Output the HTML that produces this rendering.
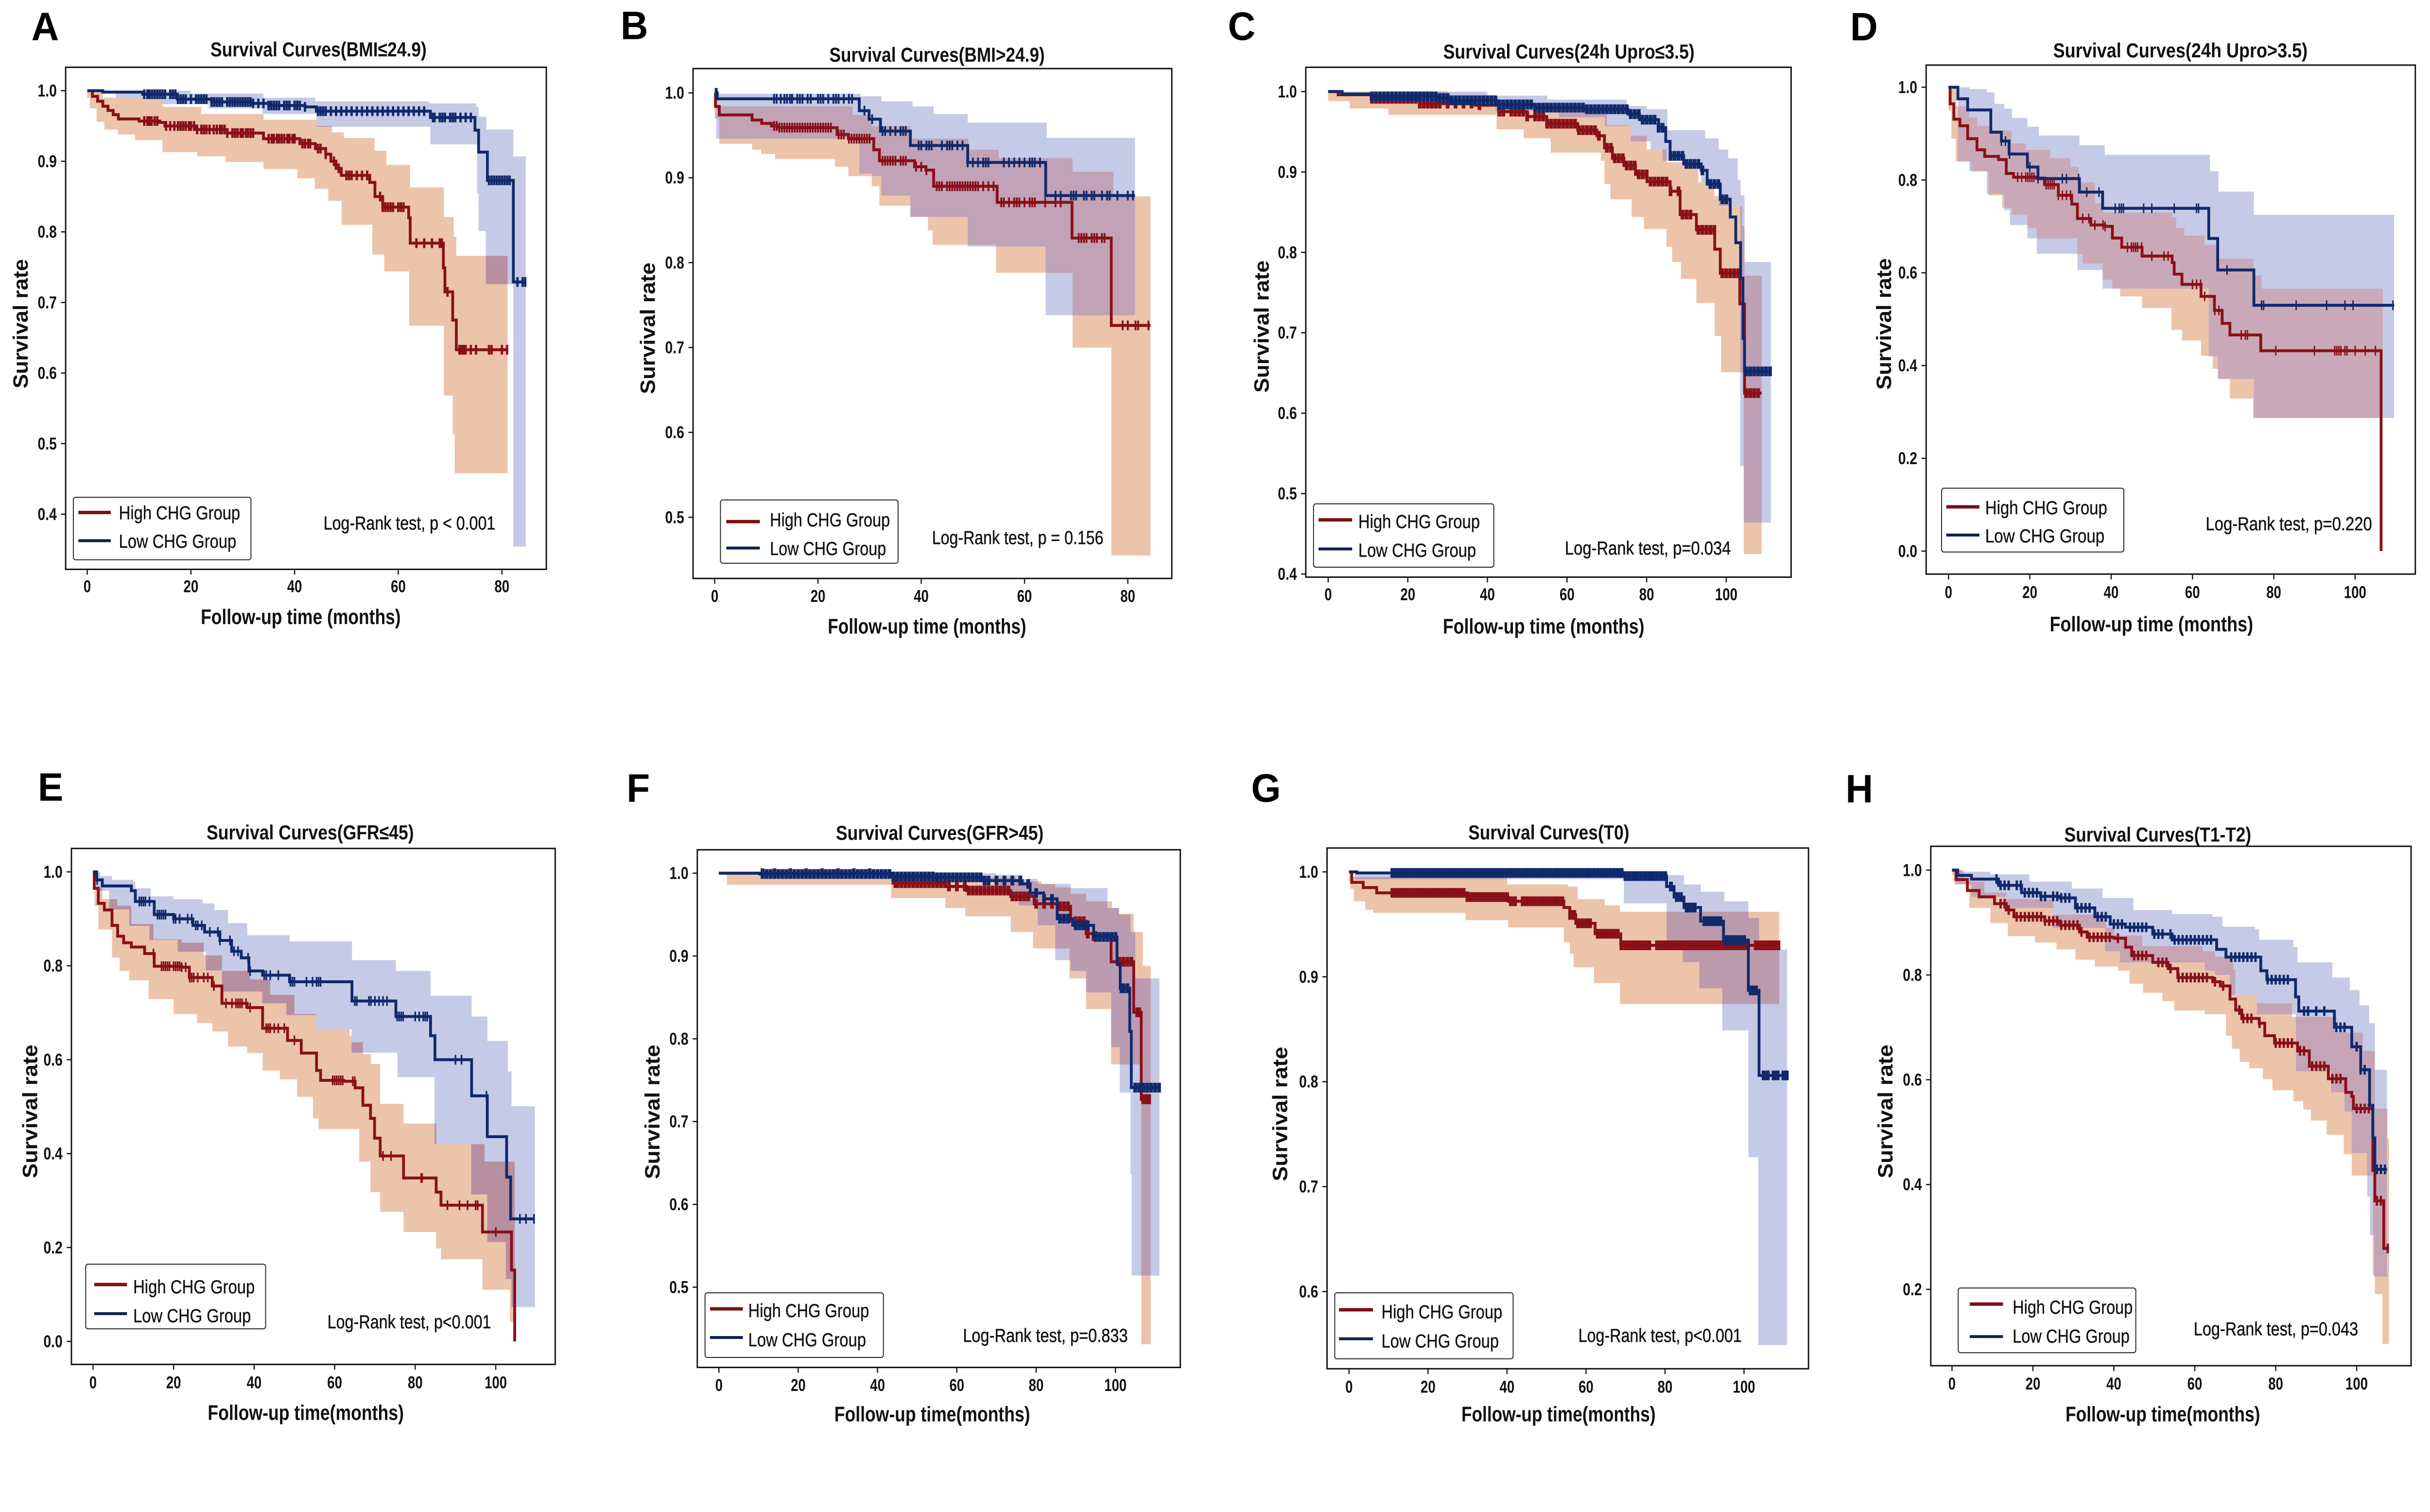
<!DOCTYPE html>
<html lang="en">
<head>
<meta charset="utf-8">
<title>Survival curves by CHG group</title>
<style>
html,body{margin:0;padding:0;background:#fff;overflow:hidden}
svg{display:block;width:100vw;height:100vh}
text{font-family:"Liberation Sans",Arial,sans-serif;fill:#111}
.letter{font-weight:700;font-size:82px;fill:#000}
.title{font-weight:700;font-size:42px}
.axis-label{font-weight:700;font-size:44px}
.tick-label{font-size:35px;font-weight:700}
.legend-text{font-size:39px;stroke:#111;stroke-width:.4px}
.note{font-size:39px;stroke:#111;stroke-width:.5px}
</style>
</head>
<body>
<svg id="figure" xmlns="http://www.w3.org/2000/svg" viewBox="0 0 5218 3111" preserveAspectRatio="none"></svg>
<script>
// ---------- Tick labels ----------
const xTicks80=[0,20,40,60,80];
const xTicks100=[0,20,40,60,80,100];
const yTicksFrom04=[0.4,0.5,0.6,0.7,0.8,0.9,1.0];
const yTicksFrom05=[0.5,0.6,0.7,0.8,0.9,1.0];
const yTicksFrom06=[0.6,0.7,0.8,0.9,1.0];
const yTicksFrom00=[0,0.2,0.4,0.6,0.8,1.0];
const yTicksFrom02=[0.2,0.4,0.6,0.8,1.0];

// ---------- Panel A: [month, survival] ----------
const aHighCurve=[[0,1],[1,.992],[2,.985],[3,.978],[4,.972],[5,.966],[6,.96],[10,.957],[14,.955],[15,.95],[21,.945],[27,.94],[34,.932],[41,.925],[44,.918],[46,.91],[47,.9],[48,.89],[49,.88],[54.5,.87],[55.5,.85],[57,.835],[62,.82],[62.3,.784],[68.7,.749],[69,.715],[70.5,.675],[71.2,.633],[81,.633]];
const aHighUpper=[[0,1],[3,.99],[14.5,.977],[22,.967],[34,.959],[44.2,.95],[47.2,.941],[49.5,.933],[55.4,.915],[57.7,.895],[62.3,.863],[68.8,.821],[70.7,.793],[71.2,.766],[81.1,.766]];
const aHighLower=[[0,.99],[.5,.975],[1.8,.956],[3.3,.945],[5.9,.938],[9.2,.93],[14.5,.913],[21.2,.907],[26.7,.899],[34,.889],[40.5,.876],[43.9,.861],[46.5,.844],[49.1,.81],[55,.768],[57.3,.744],[62.1,.667],[68.8,.568],[70.5,.513],[70.9,.458],[81.1,.458]];
const aLowCurve=[[0,1],[3,.998],[10.7,.995],[17.4,.988],[24,.984],[31.6,.982],[35,.979],[42,.977],[44.2,.971],[66.2,.962],[74.8,.944],[75.5,.913],[77.2,.873],[82.2,.729],[84.6,.729]];
const aLowUpper=[[0,1],[20,.996],[34,.99],[44,.985],[66,.982],[75,.977],[75.5,.963],[77,.945],[82.2,.907],[84.6,.907]];
const aLowLower=[[0,1],[5.5,.99],[14.5,.981],[23.4,.975],[33.8,.967],[44.2,.949],[66.2,.924],[75.2,.855],[75.5,.801],[76.9,.726],[82.2,.354],[84.6,.354]];
const aHighCensor=[11,11.6,12,12.4,13,13.5,15.2,16,16.8,17.5,18,18.5,19,19.6,20,20.6,21.2,22,22.5,23,23.6,24.4,25,25.6,26,26.5,27,28,28.5,29,29.6,30,30.6,31,31.5,32,35,35.6,36,36.6,37,37.5,38,38.6,39,39.6,40,41.5,42,42.6,43,44.5,45,46,47.6,48.5,50,50.5,51,52,53,54,56.5,57,57.5,58,58.5,59,60,60.5,61,63.5,65,66.5,68,68.4,69.5,71.8,72.2,72.6,73,74,75,77.5,78,80,81];
const aLowCensor=[11,11.6,12,12.5,13,13.5,14,14.5,15,16,16.5,17,17.5,18,18.5,19,20,21,21.5,22,22.5,23,24,24.5,25,25.5,26,27,27.5,28,28.5,29,29.5,30,30.5,31,31.5,32,33,34,35,35.5,36,36.5,37,38,38.5,39,40,40.5,41,42,44.5,45,45.5,46,47,48,49,50,51,52,53,54,55,56,57,58,59,60,61,62,63,64,65,66.7,67,68,68.5,69,70,70.5,71,72,73,74,77.5,78,78.5,79,79.5,80,80.5,81,81.5,83,84,84.5];

// ---------- Panel B ----------
const bHighCurve=[[0,1],[.15,.984],[.9,.974],[7.25,.968],[9.1,.964],[11,.961],[12.1,.959],[23.7,.951],[25.9,.946],[30.8,.933],[31.9,.92],[38.7,.913],[40.9,.909],[42.4,.89],[54.7,.871],[69.2,.829],[76.8,.726],[84.4,.726]];
const bHighUpper=[[0,1],[.5,.984],[26.7,.974],[30.4,.961],[37.9,.946],[49.1,.933],[55,.923],[69.3,.907],[77.2,.878],[84.4,.878]];
const bHighLower=[[0,.97],[.9,.94],[7.25,.933],[9,.928],[11.7,.922],[23.3,.913],[25.9,.902],[30.4,.89],[31.9,.867],[37.9,.854],[41.3,.838],[42.2,.821],[54.5,.788],[69.3,.7],[76.8,.455],[84.4,.455]];
const bLowCurve=[[0,1],[.5,.993],[28,.979],[29.9,.969],[32.1,.955],[37.9,.938],[49,.918],[64.1,.879],[81.4,.879]];
const bLowUpper=[[0,1],[.6,.999],[28.2,.996],[32.3,.99],[38.3,.984],[42.4,.975],[49,.965],[64.3,.947],[81.4,.947]];
const bLowLower=[[0,.99],[.3,.946],[28,.905],[30.4,.902],[32.3,.879],[37.9,.854],[49,.819],[64.1,.738],[81.4,.738]];
const bHighCensor=[11.5,12,12.5,13,13.5,14,14.5,15,15.5,16,16.5,17,17.5,18,18.5,19,19.5,20,20.5,21,21.5,22,22.5,24,24.5,25,26,26.5,27,27.5,28,28.5,29,29.5,30,32.5,33,33.5,34,34.5,35,36,36.5,37,39,40,41,43,43.5,44,45,45.5,46,46.5,47,47.5,48,48.5,49,49.5,50,50.5,51,52,53,54,55.5,56,57,58,58.5,59,60,61,61.5,62,64,66,67,70.5,71,71.5,72,73,73.5,74,75,75.5,79,80,81.5,82,84];
const bLowCensor=[.2,.4,11.5,12,12.8,13.5,14,14.6,15,16,16.5,17,18,18.6,20,20.5,21,22,23,23.5,24,25,26,26.6,29,30.5,32.5,33,34,35,36,36.5,37,39.5,40,41,41.5,42,44,45,45.5,46,47,48,49,50,51,52,52.5,53,56,57,58,59,60,61,61.5,62,63,66,67,69,69.5,70,71.5,72,73,73.5,75,76,76.5,78,80,81];

// ---------- Panel C ----------
const cHighCurve=[[0,1],[2.5,.996],[10.8,.991],[22.9,.985],[36.5,.983],[42.8,.975],[50,.969],[54.9,.96],[62.7,.952],[67.5,.945],[69.4,.93],[71.4,.917],[74.3,.908],[77.2,.897],[80.1,.888],[85.9,.876],[88.4,.847],[92.5,.828],[97.1,.804],[98.5,.774],[103.4,.736],[104.6,.625],[108.9,.625]];
const cHighUpper=[[0,1],[30,.996],[42,.985],[57,.975],[70,.958],[76,.945],[80,.928],[85,.912],[93,.887],[97,.87],[101,.857],[104,.833],[104.6,.771],[108.9,.771]];
const cHighLower=[[0,.988],[5.4,.979],[15.1,.971],[42.3,.953],[49.1,.942],[55.9,.924],[68.5,.914],[69.4,.885],[70.9,.866],[76.2,.844],[79.3,.829],[85,.807],[86.4,.788],[88.6,.767],[92.5,.737],[97.1,.696],[98.7,.651],[104.4,.425],[108.9,.425]];
const cLowCurve=[[0,1],[3.5,.997],[10.8,.994],[27.7,.992],[30.7,.989],[42.3,.984],[52,.98],[64.6,.978],[75.3,.972],[78.2,.965],[83,.955],[84.8,.938],[85.9,.92],[89.3,.91],[93.7,.902],[95.2,.885],[98.5,.866],[101,.844],[102.4,.812],[103.6,.768],[104.2,.693],[104.6,.652],[111.2,.652]];
const cLowUpper=[[0,1],[40,.995],[55,.99],[75,.982],[80,.978],[85.2,.952],[94.7,.942],[98.1,.928],[100.5,.917],[102.9,.89],[103.6,.871],[104.6,.788],[111.2,.788]];
const cLowLower=[[0,1],[20,.993],[42,.976],[58,.968],[69.5,.957],[76,.938],[81,.928],[84,.914],[93.7,.887],[98.1,.858],[100.5,.857],[103.5,.534],[104.4,.464],[111.2,.464]];
const cHighCensor=[11,12,13,14,15,16,17,18,19,20,21,22,23,24,25,26,27,28,30,32,34,36,38,43,44,46,47,48,49,50,52,53,54,55,56,57,58,59,60,61,62,63,64,65,66,67,68,70,71,72,73,74,75,76,77,78,79,80,81,82,83,84,85,86,88,89,90,91,93,94,95,96,97,99,100,101,102,103,105,106,107,108];
const cLowCensor=[11,12,13,14,15,16,17,18,19,20,21,22,23,24,25,26,27,28,29,30,31,32,33,34,35,36,37,38,39,40,41,42,43,44,45,46,47,48,49,50,51,52,53,54,55,56,57,58,59,60,61,62,63,64,65,66,67,68,69,70,71,72,73,74,75,76,77,78,79,80,81,82,83,84,86,87,88,89,90,91,92,93,94,96,97,98,99,100,105,106,107,108,109,110,111];

// ---------- Panel D ----------
const dHighCurve=[[0,1],[.4,.964],[1.3,.931],[2.8,.917],[4.7,.889],[7,.865],[8.9,.851],[12.3,.844],[14.2,.814],[16,.806],[21.7,.804],[23.6,.79],[27,.767],[30.3,.748],[31.7,.717],[35,.703],[38.4,.7],[40.3,.675],[42.6,.655],[47.6,.636],[55,.622],[55.5,.597],[57.4,.575],[62.1,.549],[65.4,.519],[67.3,.491],[69.2,.466],[76.8,.432],[106.4,0],[106.4,0]];
const dHighUpper=[[0,1],[1.9,.959],[5,.935],[7,.917],[10,.907],[15.5,.879],[19,.865],[25,.847],[30,.828],[32,.795],[36,.75],[38,.73],[55,.72],[56,.697],[58,.68],[63,.66],[66,.63],[75,.594],[77,.566],[106.8,.566]];
const dHighLower=[[0,.95],[.7,.889],[1.8,.84],[5.6,.818],[9.9,.767],[13.2,.74],[15.6,.725],[19.4,.697],[21.7,.674],[31.7,.64],[33,.62],[37.9,.585],[40.3,.566],[42.2,.549],[47.6,.524],[54.8,.477],[57.4,.454],[62.1,.421],[65,.393],[66.4,.371],[69.2,.329],[74.9,.287],[106.8,.287]];
const dLowCurve=[[0,1],[2.3,.975],[4.7,.951],[10.4,.903],[13,.884],[14.9,.856],[19.4,.828],[22,.803],[32.2,.774],[37.9,.739],[64,.674],[66.2,.606],[75.1,.53],[109.6,.53]];
const dLowUpper=[[0,1],[5.1,.996],[9.4,.989],[11.3,.964],[13.7,.954],[15.6,.934],[19.4,.915],[22.2,.896],[32.2,.875],[38.4,.854],[64.3,.819],[66.4,.775],[75.1,.725],[109.6,.725]];
const dLowLower=[[0,1],[2.3,.84],[5.1,.82],[9.4,.77],[13.7,.735],[15.1,.703],[19.4,.674],[21.7,.641],[31.7,.606],[37.9,.566],[64,.42],[66.2,.371],[75.1,.287],[109.6,.287]];
const dHighCensor=[17,18,19,19.5,20,20.5,21,24,24.5,25,25.5,26,27,28,29,30,33,34.5,36,38,38.5,44,45,45.5,46,46.5,47.5,50,53,54,60,61,62,63,65.5,66.5,72,73,73.5,80.5,90,95,95.5,96,96.5,97.5,98,100,102.5,105];
const dLowCensor=[13,14,15,20,22,28,29,32,34,37,41,42,42.5,43,48,50,55.5,61,61.5,68.5,77,77.5,85.5,93,97.5,99.5,109.3];

// ---------- Panel E ----------
const eHighCurve=[[0,1],[.3,.965],[1.3,.933],[2.8,.919],[4.7,.886],[6.1,.863],[7.6,.849],[9.5,.84],[12.8,.826],[15.2,.799],[22,.797],[23.9,.775],[29.6,.757],[32,.72],[38.3,.711],[42.1,.667],[48.3,.641],[51.7,.614],[55.5,.577],[56.5,.556],[62.2,.554],[65.1,.54],[67,.503],[68.9,.475],[69.9,.433],[71.3,.395],[77.1,.348],[85.2,.318],[86.4,.29],[96.7,.233],[103.9,.152],[104.7,0],[104.7,0]];
const eHighUpper=[[0,1],[.9,.965],[2.3,.942],[6,.928],[9.5,.889],[15,.856],[22,.849],[27.5,.822],[32,.789],[39,.771],[44,.738],[50,.697],[55.5,.665],[63.7,.651],[64.2,.637],[67,.612],[69,.591],[71.3,.506],[77.1,.464],[85.2,.42],[97.2,.383],[104.7,.383]];
const eHighLower=[[0,.99],[.4,.928],[1.3,.877],[4.7,.817],[6.6,.789],[9,.769],[13.8,.729],[20,.697],[25.8,.678],[29.6,.66],[33.5,.628],[38.3,.614],[42.1,.577],[46.4,.558],[50.7,.521],[54.6,.475],[56,.452],[66.1,.383],[68.9,.318],[71.3,.276],[77.1,.233],[85.2,.198],[86.4,.175],[96.7,.11],[103.5,.041],[104.7,.041]];
const eLowCurve=[[0,1],[.9,.983],[2.3,.97],[9.5,.96],[10.5,.937],[15.2,.909],[20,.9],[24.8,.886],[27.7,.872],[31.5,.854],[34.4,.831],[36.8,.817],[38.7,.789],[42.1,.78],[48.8,.766],[64.3,.725],[75.2,.692],[83.8,.651],[84.9,.6],[94,.523],[97.9,.436],[102.7,.35],[103.7,.261],[109.7,.261]];
const eLowUpper=[[0,1],[1.8,.991],[4.7,.983],[10,.979],[10.5,.965],[14.3,.948],[20,.942],[27.2,.933],[30.1,.919],[33.5,.891],[38.3,.865],[48.8,.852],[64.3,.812],[75.2,.789],[83.8,.736],[94,.692],[97.9,.64],[103,.575],[103.9,.501],[109.7,.501]];
const eLowLower=[[0,1],[.9,.96],[4,.92],[9,.885],[14,.855],[21,.83],[28,.79],[32,.745],[42,.72],[48,.695],[55.5,.665],[64.2,.615],[75.6,.563],[84.8,.42],[93.9,.313],[97.9,.212],[102.5,.133],[103.9,.073],[109.7,.073]];
const eHighCensor=[15,17,17.5,18,18.5,19,20,20.5,21,21.5,22,23,24,24.5,25,26,27.5,28.5,30,33,34.5,35.5,36,36.5,37,38,39,43,43.5,44,45,46,47.5,50,59.5,60,60.5,61,61.5,62,64.5,65,72,74,81.5,81.7,88,91,93,95,95.5,100];
const eLowCensor=[1,11.5,12,12.5,13,14,16,16.5,17,17.5,18,20,20.5,21.5,23.5,24.5,25.5,26,27,29,31,31.5,34,35,36,38.5,39,42.5,43,44,46,49,49.5,50,53,54.5,55.5,56,56.5,65,65.5,68.5,69,70,71,72,73,75.5,76,76.5,77,80,81,82,82.5,83,90,91.5,97.7,106,107.5,109.5];

// ---------- Panel F ----------
const fHighCurve=[[0,1],[43.4,.997],[43.9,.988],[57.1,.984],[62.4,.979],[73.6,.972],[79.5,.963],[85.3,.96],[88.7,.942],[92.6,.927],[94.5,.924],[98.9,.893],[104.6,.832],[106.5,.727],[108.9,.727]];
const fHighUpper=[[0,1],[43,.999],[57,.995],[75,.99],[81.4,.987],[84.8,.983],[88.7,.975],[92.6,.966],[99.1,.958],[100.9,.951],[104.6,.929],[106.9,.888],[108.9,.888]];
const fHighLower=[[0,1],[2,.986],[43.4,.97],[57.1,.958],[62.1,.948],[73.6,.929],[79.2,.909],[88.4,.873],[92.6,.836],[98.9,.769],[106.5,.431],[108.9,.431]];
const fLowCurve=[[0,1],[10.3,.999],[43.4,.996],[54.1,.995],[66.3,.991],[76.5,.987],[78.5,.976],[81.9,.969],[85.3,.945],[89.2,.937],[94.5,.923],[100.4,.89],[101.2,.861],[103.6,.809],[104,.741],[111.1,.741]];
const fLowUpper=[[0,1],[70,.998],[76.5,.993],[80.4,.987],[88.7,.982],[98,.958],[100.9,.95],[103.8,.929],[105,.873],[111.1,.873]];
const fLowLower=[[0,1],[43,.997],[60,.99],[70,.975],[75.6,.961],[80.4,.937],[84.8,.895],[88.7,.882],[92.6,.856],[98.9,.79],[101.1,.735],[103.8,.636],[104.1,.514],[111.1,.514]];
const fHighCensor=[11,14,18,22,26,30,34,38,44.5,45,46,47,48,49,50,51,52,53,54,55,56,57,58,60,62,63,64,65,66,67,68,69,70,71,72,73,74,75,76,77,78,80,82,84,86,87,88,90,91,92,93,94.5,95,101,102,103,104,105.5,106,107,107.5,108,108.5];
const fLowCensor=[11,12,13,14,15,16,17,18,19,20,21,22,23,24,25,26,27,28,29,30,31,32,33,34,35,36,37,38,39,40,41,42,43,44,45,46,47,48,49,50,51,52,53,54,55,56,57,58,59,60,61,62,63,64,65,66,67,68,70,72,74,76,78,80,82,84,86,87,88,90,91,92,93,95,96,97,98,99,100,101.5,102,103,105,106,107,108,109,110,111];

// ---------- Panel G ----------
const gHighCurve=[[0,1],[.7,.99],[3.6,.985],[7,.98],[30,.976],[40.3,.972],[54.4,.966],[55.9,.959],[57.4,.951],[62.3,.941],[68.8,.93],[108.9,.93]];
const gHighUpper=[[0,1],[.5,.995],[40,.988],[55.4,.986],[57.9,.974],[64.7,.968],[68.6,.962],[108.9,.962]];
const gHighLower=[[0,.99],[.3,.984],[1.2,.972],[4.1,.964],[6.1,.961],[29.5,.954],[40.3,.947],[54.4,.933],[55.9,.922],[56.9,.909],[62,.894],[68.6,.874],[108.9,.874]];
const gLowCurve=[[0,1],[2,.999],[69.6,.996],[80.4,.986],[82.3,.976],[84.8,.966],[89,.953],[94.8,.935],[101.1,.887],[103.8,.806],[110.9,.806]];
const gLowUpper=[[0,1],[80.8,.997],[84.8,.988],[89.1,.981],[95,.972],[101.1,.956],[103.8,.926],[110.9,.926]];
const gLowLower=[[0,1],[1.5,.993],[69.6,.97],[80.4,.93],[84.5,.914],[88.7,.889],[94.5,.849],[101.1,.728],[103.6,.549],[110.9,.549]];
const gHighCensor=[11,12,13,14,15,16,17,18,19,20,21,22,23,24,25,26,27,28,29,30,31,32,33,34,35,36,37,38,39,40,41,42,44,45,46,47,48,49,50,51,52,53,54,56,57,58,59,60,61,63,64,65,66,67,68,69,70,71,72,73,74,75,76,78,79,80,81,82,83,84,85,86,87,88,89,90,91,92,93,94,95,96,97,98,99,100,101,103,104,105,106,107,108,108.7];
const gLowCensor=[11,12,13,14,15,16,17,18,19,20,21,22,23,24,25,26,27,28,29,30,31,32,33,34,35,36,37,38,39,40,41,42,43,44,45,46,47,48,49,50,51,52,53,54,55,56,57,58,59,60,61,62,63,64,65,66,67,68,69,70,71,72,73,74,75,76,77,78,79,80,81.5,83,84,85.5,86,87,87.5,90,91,92,93,94,95.5,96,97,98,99,100,101.7,102.5,103,105,106,107.5,108.5,110,110.8];

// ---------- Panel H ----------
const hHighCurve=[[0,1],[1,.982],[3.8,.961],[6.7,.949],[10.5,.936],[13.4,.924],[15.3,.911],[22.9,.903],[26.7,.895],[31.5,.882],[33.4,.872],[40.1,.87],[42.9,.853],[44.4,.837],[49.6,.824],[53.4,.812],[55.8,.795],[64.4,.787],[66.3,.779],[68.7,.754],[70.1,.733],[71.6,.717],[75.9,.708],[77.3,.684],[79.7,.67],[85.4,.655],[88.3,.626],[93,.602],[97.3,.576],[98.8,.568],[99.2,.545],[104,.427],[104.5,.369],[106.7,.278],[108,.278]];
const hHighUpper=[[0,1],[2.9,.978],[8,.957],[13.4,.945],[25,.915],[38,.89],[40,.875],[47,.855],[62,.845],[65,.835],[69.5,.81],[70,.762],[75.3,.746],[84,.72],[95,.69],[101.5,.655],[104.5,.545],[107.6,.487],[108,.487]];
const hHighLower=[[0,.99],[.5,.973],[4.3,.928],[9.5,.899],[13.8,.874],[20.5,.862],[25.8,.849],[30.5,.829],[35.3,.816],[41,.808],[43.9,.783],[47.2,.766],[52,.75],[54.9,.732],[62.5,.725],[67.7,.684],[69.2,.659],[71.1,.634],[73.5,.622],[76.8,.601],[79.2,.58],[84.4,.559],[86.8,.543],[88.7,.522],[92.6,.495],[96.8,.458],[98.8,.417],[104,.228],[104.5,.191],[106.4,.096],[108,.096]];
const hLowCurve=[[0,1],[1.4,.99],[4.8,.983],[11.5,.971],[17.2,.957],[21.9,.95],[26.7,.947],[30.5,.928],[35.3,.911],[39.1,.897],[42.9,.891],[49.6,.878],[54.4,.867],[65.4,.849],[67.7,.834],[76.3,.808],[77.8,.791],[84.9,.758],[85.7,.731],[94.5,.7],[98.8,.663],[101,.619],[103.2,.551],[104,.489],[104.5,.429],[107.5,.429]];
const hLowUpper=[[0,1],[2.4,.997],[9.5,.992],[19.1,.978],[29.6,.965],[37.2,.947],[44.8,.924],[54.4,.916],[64.4,.911],[66.8,.892],[74.9,.887],[75.9,.867],[84.4,.853],[85.4,.824],[94,.795],[98.3,.771],[100.7,.742],[103.1,.708],[104.5,.619],[107.5,.619]];
const hLowLower=[[0,1],[1,.973],[4.8,.949],[13.4,.928],[25,.89],[37.8,.845],[41.5,.824],[62.5,.808],[65,.8],[68.7,.762],[75.3,.725],[85,.616],[93.7,.576],[97,.539],[98.8,.46],[102.6,.377],[103.3,.303],[104.3,.224],[107.5,.224]];
const hHighCensor=[12,13,14,16,17,18,19,20,21,22,23,24,25,26,27,28,29,30,31,32,34,35,36,37,38,39,41,45,46,47,48,51,52,53,54,56,57,58,59,60,61,62,63,65,67,71,72,73,74,76,80,81,82,83,84,86,87,89,90,91,92,94,95,96,100,101,102,103,105,106,107.7];
const hLowCensor=[11,12,13,14,16,17,18,19,20,21,22,23,25,26,27,28,29,31,32,33,34,36,37,38,40,41,42,44,45,46,47,48,50,51,52,54,55,56,57,58,59,60,61,62,63,64,69,70,71,72,73,74,75,78,79,80,81,82,83,87,88,90,92,95,96,97,100,101,102,105,106,107];

// ---------- Layout (reference crop coordinates of each panel) ----------
const KX=1300/1568, KY=1400/1568;
const panels=[
{id:'a',letter:'A',ox:0,oy:0,frame:[170,1415,155,1312],x0:226,xPer:13.425,y1:209,yPer:1626.7,letterX:117,letterY:93,overlap:'#b88ea1',
 title:'Survival Curves(BMI≤24.9)',titleSpan:[545,1105],titleY:130,xLabel:'Follow-up time (months)',xLabelSpan:[520,1038],xLabelY:1438,yLabelX:72,yLabelSpan:[597,895],
 legend:[190,650,1146,1290],legendLine:[203,287],legendY:[1181,1246],legendText:[308,622,612],legendBase:[1197,1262],note:'Log-Rank test, p < 0.001',noteSpan:[838,1283],noteY:1220,xTickY:1365,censorW:5,
 xTicks:xTicks80,yTicks:yTicksFrom04,highCurve:aHighCurve,highUpper:aHighUpper,highLower:aHighLower,lowCurve:aLowCurve,lowUpper:aLowUpper,lowLower:aLowLower,highCensor:aHighCensor,lowCensor:aLowCensor},
{id:'b',letter:'B',ox:1300,oy:0,frame:[227,1467,158,1333],x0:283,xPer:13.375,y1:214,yPer:1956,letterX:75,letterY:90,overlap:'#c1a2b6',
 title:'Survival Curves(BMI>24.9)',titleSpan:[580,1138],titleY:142,xLabel:'Follow-up time (months)',xLabelSpan:[576,1090],xLabelY:1460,yLabelX:128,yLabelSpan:[605,908],
 legend:[298,758,1152,1298],legendLine:[313,400],legendY:[1202,1263],legendText:[426,737,727],legendBase:[1213,1279],note:'Log-Rank test, p = 0.156',noteSpan:[846,1290],noteY:1254,xTickY:1387,censorW:4,
 xTicks:xTicks80,yTicks:yTicksFrom05,highCurve:bHighCurve,highUpper:bHighUpper,highLower:bHighLower,lowCurve:bLowCurve,lowUpper:bLowUpper,lowLower:bLowLower,highCensor:bHighCensor,lowCensor:bLowCensor},
{id:'c',letter:'C',ox:2600,oy:0,frame:[246,1503,155,1330],x0:304,xPer:10.31,y1:211,yPer:1853,letterX:80,letterY:92,overlap:'#c0a0b5',
 title:'Survival Curves(24h Upro≤3.5)',titleSpan:[602,1253],titleY:135,xLabel:'Follow-up time (months)',xLabelSpan:[601,1123],xLabelY:1460,yLabelX:150,yLabelSpan:[600,905],
 legend:[266,733,1161,1307],legendLine:[279,366],legendY:[1198,1265],legendText:[382,697,687],legendBase:[1217,1283],note:'Log-Rank test, p=0.034',noteSpan:[917,1347],noteY:1278,xTickY:1383,censorW:8,
 xTicks:xTicks100,yTicks:yTicksFrom04,highCurve:cHighCurve,highUpper:cHighUpper,highLower:cHighLower,lowCurve:cLowCurve,lowUpper:cLowUpper,lowLower:cLowLower,highCensor:cHighCensor,lowCensor:cLowCensor},
{id:'d',letter:'D',ox:3918,oy:0,frame:[263,1530,150,1323],x0:321,xPer:10.53,y1:201,yPer:1069,letterX:102,letterY:93,overlap:'#c9a9b8',
 title:'Survival Curves(24h Upro>3.5)',titleSpan:[592,1251],titleY:132,xLabel:'Follow-up time (months)',xLabelSpan:[583,1110],xLabelY:1455,yLabelX:172,yLabelSpan:[595,898],
 legend:[303,775,1125,1272],legendLine:[315,401],legendY:[1168,1233],legendText:[416,732,725],legendBase:[1185,1250],note:'Log-Rank test, p=0.220',noteSpan:[987,1418],noteY:1222,xTickY:1378,censorW:3,
 xTicks:xTicks100,yTicks:yTicksFrom00,highCurve:dHighCurve,highUpper:dHighUpper,highLower:dHighLower,lowCurve:dLowCurve,lowUpper:dLowUpper,lowLower:dLowLower,highCensor:dHighCensor,lowCensor:dLowCensor},
{id:'e',letter:'E',ox:0,oy:1560,frame:[185,1438,208,1397],x0:241,xPer:10.43,y1:262,yPer:1082,letterX:131,letterY:98,overlap:'#b88ea1',
 title:'Survival Curves(GFR≤45)',titleSpan:[535,1072],titleY:187,xLabel:'Follow-up time(months)',xLabelSpan:[538,1046],xLabelY:1525,yLabelX:96,yLabelSpan:[660,968],
 legend:[222,688,1166,1315],legendLine:[244,329],legendY:[1213,1280],legendText:[345,660,650],legendBase:[1233,1300],note:'Log-Rank test, p<0.001',noteSpan:[848,1272],noteY:1314,xTickY:1452,censorW:3.5,
 xTicks:xTicks100,yTicks:yTicksFrom00,highCurve:eHighCurve,highUpper:eHighUpper,highLower:eHighLower,lowCurve:eLowCurve,lowUpper:eLowUpper,lowLower:eLowLower,highCensor:eHighCensor,lowCensor:eLowCensor},
{id:'f',letter:'F',ox:1300,oy:1560,frame:[238,1489,211,1404],x0:294,xPer:10.27,y1:265,yPer:1908,letterX:85,letterY:100,overlap:'#bc9bb0',
 title:'Survival Curves(GFR>45)',titleSpan:[597,1135],titleY:188,xLabel:'Follow-up time(months)',xLabelSpan:[593,1100],xLabelY:1528,yLabelX:140,yLabelSpan:[660,970],
 legend:[258,720,1232,1381],legendLine:[271,356],legendY:[1269,1335],legendText:[370,683,675],legendBase:[1288,1355],note:'Log-Rank test, p=0.833',noteSpan:[926,1353],noteY:1345,xTickY:1458,censorW:8,
 xTicks:xTicks100,yTicks:yTicksFrom05,highCurve:fHighCurve,highUpper:fHighUpper,highLower:fHighLower,lowCurve:fLowCurve,lowUpper:fLowUpper,lowLower:fLowLower,highCensor:fHighCensor,lowCensor:fLowCensor},
{id:'g',letter:'G',ox:2600,oy:1560,frame:[301,1548,207,1407],x0:358,xPer:10.23,y1:262,yPer:2417.5,letterX:143,letterY:100,overlap:'#bb9aab',
 title:'Survival Curves(T0)',titleSpan:[667,1084],titleY:187,xLabel:'Follow-up time(months)',xLabelSpan:[649,1152],xLabelY:1528,yLabelX:198,yLabelSpan:[665,975],
 legend:[321,783,1232,1384],legendLine:[332,420],legendY:[1271,1338],legendText:[442,755,746],legendBase:[1291,1358],note:'Log-Rank test, p<0.001',noteSpan:[952,1375],noteY:1345,xTickY:1462,censorW:8.5,
 xTicks:xTicks100,yTicks:yTicksFrom06,highCurve:gHighCurve,highUpper:gHighUpper,highLower:gHighLower,lowCurve:gLowCurve,lowUpper:gLowUpper,lowLower:gLowLower,highCensor:gHighCensor,lowCensor:gLowCensor},
{id:'h',letter:'H',ox:3918,oy:1560,frame:[275,1519,203,1400],x0:330,xPer:10.48,y1:258,yPer:1207.5,letterX:90,letterY:102,overlap:'#c4a4b5',
 title:'Survival Curves(T1-T2)',titleSpan:[621,1105],titleY:192,xLabel:'Follow-up time(months)',xLabelSpan:[624,1128],xLabelY:1528,yLabelX:176,yLabelSpan:[660,968],
 legend:[346,806,1221,1370],legendLine:[376,462],legendY:[1258,1333],legendText:[487,798,790],legendBase:[1280,1347],note:'Log-Rank test, p=0.043',noteSpan:[956,1382],noteY:1330,xTickY:1455,censorW:5,
 xTicks:xTicks100,yTicks:yTicksFrom02,highCurve:hHighCurve,highUpper:hHighUpper,highLower:hHighLower,lowCurve:hLowCurve,lowUpper:hLowUpper,lowLower:hLowLower,highCensor:hHighCensor,lowCensor:hLowCensor}
];

const HIGH_LINE='#8a1018', LOW_LINE='#10296c', HIGH_BAND='#ecc4aa', LOW_BAND='#c5cae6';
const svg=document.getElementById('figure');
const NS='http://www.w3.org/2000/svg';
const defs=document.createElementNS(NS,'defs');
svg.appendChild(defs);

function mk(tag,attrs,parent,txt){
  const el=document.createElementNS(NS,tag);
  for(const k in attrs){el.setAttribute(k,attrs[k]);}
  if(txt!==undefined){el.textContent=txt;}
  parent.appendChild(el);
  return el;
}
function stepVerts(pts){
  const v=[pts[0]];
  for(let i=1;i<pts.length;i++){
    v.push([pts[i][0],pts[i-1][1]]);
    v.push(pts[i]);
  }
  return v;
}
function valueAt(pts,t){
  let s=pts[0][1];
  for(const p of pts){ if(p[0]<=t){s=p[1];} }
  return s;
}

function drawPanel(p){
  const X=z=>p.ox+z*KX, Y=z=>p.oy+z*KY;
  const xAxis=t=>X(p.x0+t*p.xPer);
  const yAxis=s=>Y(p.y1+(1-s)*p.yPer);
  const toPath=v=>v.map((q,i)=>(i?'L':'M')+xAxis(q[0]).toFixed(1)+' '+yAxis(q[1]).toFixed(1)).join(' ');

  const g=mk('g',{},svg);
  
  

  const letter=mk('text',{x:X(p.letterX),y:Y(p.letterY),'text-anchor':'middle',class:'letter'},g,p.letter);
  
  

  const title=mk('text',{x:X(p.titleSpan[0]),y:Y(p.titleY),class:'title',textLength:(p.titleSpan[1]-p.titleSpan[0])*KX,lengthAdjust:'spacingAndGlyphs'},g,p.title);
  
  

  // confidence bands
  const highD=toPath(stepVerts(p.highUpper).concat(stepVerts(p.highLower).reverse()))+' Z';
  const lowD=toPath(stepVerts(p.lowUpper).concat(stepVerts(p.lowLower).reverse()))+' Z';
  const clip=mk('clipPath',{id:'low-band-clip-'+p.id},defs);
  mk('path',{d:lowD},clip);
  const highBand=mk('path',{d:highD,fill:HIGH_BAND},g);
  
  
  const lowBand=mk('path',{d:lowD,fill:LOW_BAND},g);
  
  
  const overlap=mk('path',{d:highD,fill:p.overlap,'clip-path':'url(#low-band-clip-'+p.id+')'},g);
  
  

  // survival curves
  const highLine=mk('path',{d:toPath(stepVerts(p.highCurve)),fill:'none',stroke:HIGH_LINE,'stroke-width':6},g);
  
  
  const highTicks=mk('g',{stroke:HIGH_LINE,'stroke-width':p.censorW},g);
  
  
  for(const c of p.highCensor){
    const y=yAxis(valueAt(p.highCurve,c));
    mk('line',{x1:xAxis(c),x2:xAxis(c),y1:y-10,y2:y+10},highTicks);
  }
  const lowLine=mk('path',{d:toPath(stepVerts(p.lowCurve)),fill:'none',stroke:LOW_LINE,'stroke-width':6},g);
  
  
  const lowTicks=mk('g',{stroke:LOW_LINE,'stroke-width':p.censorW},g);
  
  
  for(const c of p.lowCensor){
    const y=yAxis(valueAt(p.lowCurve,c));
    mk('line',{x1:xAxis(c),x2:xAxis(c),y1:y-10,y2:y+10},lowTicks);
  }

  // frame
  const f=p.frame;
  const frame=mk('rect',{x:X(f[0]),y:Y(f[2]),width:(f[1]-f[0])*KX,height:(f[3]-f[2])*KY,fill:'none',stroke:'#111','stroke-width':3},g);
  
  

  // x axis
  for(const t of p.xTicks){
    const tick=mk('line',{x1:xAxis(t),x2:xAxis(t),y1:Y(f[3]),y2:Y(f[3])+11,stroke:'#111','stroke-width':2.5},g);
    
    
    const label=String(t);
    const lab=mk('text',{x:xAxis(t),y:Y(p.xTickY),'text-anchor':'middle',class:'tick-label',textLength:16*label.length,lengthAdjust:'spacingAndGlyphs'},g,label);
    
    
  }
  // y axis
  for(const s of p.yTicks){
    const tick=mk('line',{x1:X(f[0])-10,x2:X(f[0]),y1:yAxis(s),y2:yAxis(s),stroke:'#111','stroke-width':2.5},g);
    
    
    const lab=mk('text',{x:X(f[0])-60,y:yAxis(s)+12,class:'tick-label',textLength:41,lengthAdjust:'spacingAndGlyphs'},g,s.toFixed(1));
    
    
  }

  const xl=mk('text',{x:X(p.xLabelSpan[0]),y:Y(p.xLabelY),class:'axis-label',textLength:(p.xLabelSpan[1]-p.xLabelSpan[0])*KX,lengthAdjust:'spacingAndGlyphs'},g,p.xLabel);
  
  

  const ylx=X(p.yLabelX), yly=Y(p.yLabelSpan[1]);
  const yl=mk('text',{x:ylx,y:yly,class:'axis-label',transform:'rotate(-90 '+ylx+' '+yly+')',textLength:(p.yLabelSpan[1]-p.yLabelSpan[0])*KY,lengthAdjust:'spacingAndGlyphs'},g,'Survival rate');
  
  

  // legend
  const lg=p.legend;
  const legend=mk('g',{},g);
  
  
  mk('rect',{x:X(lg[0]),y:Y(lg[2]),width:(lg[1]-lg[0])*KX,height:(lg[3]-lg[2])*KY,rx:5,fill:'#fff',stroke:'#222','stroke-width':2},legend);
  const hl=mk('line',{x1:X(p.legendLine[0]),x2:X(p.legendLine[1]),y1:Y(p.legendY[0]),y2:Y(p.legendY[0]),stroke:'#7c0f18','stroke-width':7},legend);
  
  
  const ll=mk('line',{x1:X(p.legendLine[0]),x2:X(p.legendLine[1]),y1:Y(p.legendY[1]),y2:Y(p.legendY[1]),stroke:'#10204f','stroke-width':6},legend);
  
  
  const ht=mk('text',{x:X(p.legendText[0]),y:Y(p.legendBase[0]),class:'legend-text',textLength:(p.legendText[1]-p.legendText[0])*KX,lengthAdjust:'spacingAndGlyphs'},legend,'High CHG Group');
  
  
  const lt=mk('text',{x:X(p.legendText[0]),y:Y(p.legendBase[1]),class:'legend-text',textLength:(p.legendText[2]-p.legendText[0])*KX,lengthAdjust:'spacingAndGlyphs'},legend,'Low CHG Group');
  
  

  const note=mk('text',{x:X(p.noteSpan[0]),y:Y(p.noteY),class:'note',textLength:(p.noteSpan[1]-p.noteSpan[0])*KX,lengthAdjust:'spacingAndGlyphs'},g,p.note);
  
  
}
panels.forEach(drawPanel);
</script>
</body>
</html>
